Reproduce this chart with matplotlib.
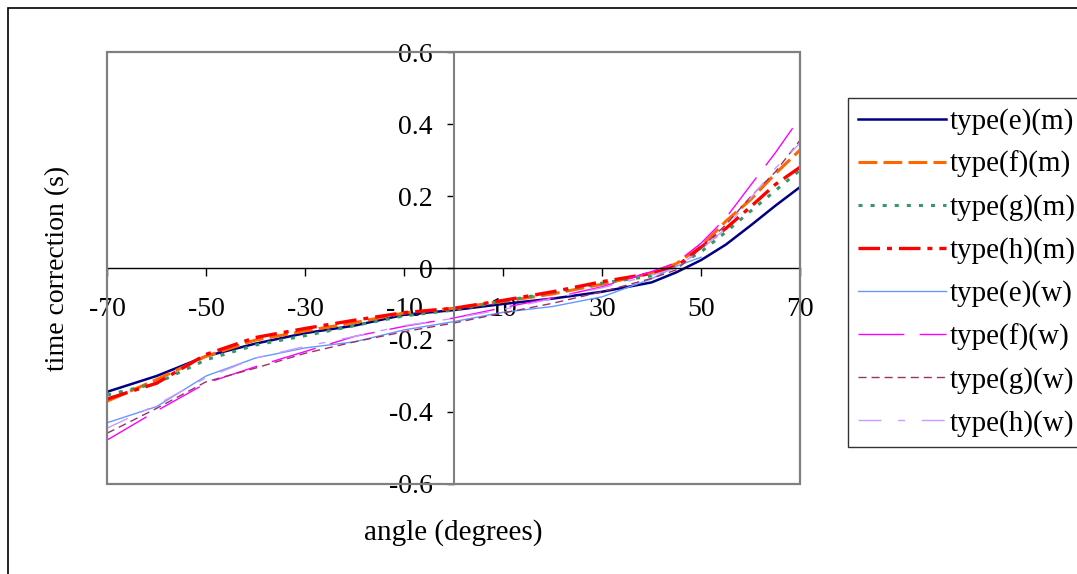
import matplotlib
matplotlib.use('Agg')
import matplotlib.pyplot as plt
from matplotlib.patches import Rectangle

plt.rcParams['font.family'] = ['Liberation Serif', 'DejaVu Serif']
plt.rcParams['lines.scale_dashes'] = False
plt.rcParams['axes.unicode_minus'] = False

angles = [-70, -60, -50, -40, -30, -20, -10, 0, 10, 20, 30, 40, 45, 50, 55, 60, 65, 70]
angles_ew = [-70, -60, -50, -40, -30, -20, -10, 0, 10, 20, 30, 40, 45, 50]

e_m = [-0.344, -0.30, -0.245, -0.21, -0.181, -0.16, -0.13, -0.117, -0.10, -0.085, -0.066, -0.040, -0.012, 0.022, 0.065, 0.118, 0.173, 0.225]
f_m = [-0.37, -0.31, -0.245, -0.20, -0.175, -0.152, -0.125, -0.112, -0.093, -0.072, -0.045, -0.014, 0.012, 0.06, 0.13, 0.19, 0.262, 0.328]
g_m = [-0.353, -0.32, -0.255, -0.214, -0.188, -0.16, -0.133, -0.117, -0.092, -0.068, -0.042, -0.022, 0.006, 0.045, 0.10, 0.158, 0.215, 0.272]
h_m = [-0.364, -0.32, -0.24, -0.193, -0.168, -0.145, -0.124, -0.112, -0.09, -0.066, -0.038, -0.015, 0.004, 0.058, 0.11, 0.17, 0.232, 0.28]
e_w = [-0.43, -0.385, -0.30, -0.25, -0.222, -0.205, -0.172, -0.149, -0.123, -0.107, -0.08, -0.03, 0.005, 0.03]
f_w = [-0.478, -0.397, -0.32, -0.274, -0.232, -0.19, -0.162, -0.139, -0.11, -0.083, -0.052, -0.01, 0.015, 0.069, 0.139, 0.23, 0.32, 0.418]
g_w = [-0.459, -0.39, -0.316, -0.278, -0.237, -0.205, -0.177, -0.153, -0.125, -0.098, -0.066, -0.029, -0.005, 0.055, 0.12, 0.198, 0.267, 0.355]
h_w = [-0.445, -0.38, -0.305, -0.25, -0.218, -0.19, -0.16, -0.14, -0.115, -0.085, -0.055, -0.02, 0.0, 0.052, 0.11, 0.194, 0.277, 0.347]

fig = plt.figure(figsize=(10.77, 5.74), dpi=100)
ax = fig.add_axes([0.0994, 0.1568, 0.6435, 0.7526])

ax.plot(angles, e_m, color='#000080', lw=1.8, label='type(e)(m)')
ax.plot(angles, f_m, color='#ff6600', lw=2.2, linestyle=(0, (13.5, 4.5)), label='type(f)(m)')
ax.plot(angles, g_m, color='#339966', lw=2.2, linestyle=(0, (2.9, 5.8)), label='type(g)(m)')
ax.plot(angles, h_m, color='#ff0000', lw=2.4, linestyle=(0, (15.5, 5, 3.6, 5)), label='type(h)(m)')
ax.plot(angles_ew, e_w, color='#6699ff', lw=1.0, label='type(e)(w)')
ax.plot(angles, f_w, color='#ff00ff', lw=1.0, linestyle=(0, (33, 11)), label='type(f)(w)')
ax.plot(angles, g_w, color='#993366', lw=1.0, linestyle=(0, (5.8, 3.6)), label='type(g)(w)')
ax.plot(angles, h_w, color='#cc99ff', lw=1.0, linestyle=(0, (16.5, 12, 5, 12)), label='type(h)(w)')

ax.set_xlim(-70, 70)
ax.set_ylim(-0.6, 0.6)
ax.set_xticks(range(-70, 71, 20))
ax.set_yticks([-0.6, -0.4, -0.2, 0, 0.2, 0.4, 0.6])
ax.set_yticklabels(['-0.6', '-0.4', '-0.2', '0', '0.2', '0.4', '0.6'])

ax.spines['left'].set_position(('data', 0))
ax.spines['bottom'].set_position(('data', 0))
ax.spines['left'].set_color('#808080')
ax.spines['left'].set_linewidth(1.5)
ax.spines['bottom'].set_color('black')
ax.spines['bottom'].set_linewidth(1.0)
ax.spines['top'].set_visible(False)
ax.spines['right'].set_visible(False)
ax.add_patch(Rectangle((0, 0), 1, 1, transform=ax.transAxes, fill=False,
                       edgecolor='#808080', lw=1.6, clip_on=False, zorder=5))

ax.tick_params(axis='x', direction='out', length=6, width=1, pad=15, labelsize=20)
ax.tick_params(axis='y', direction='out', length=5, width=1, pad=10, labelsize=20)

fig.text(0.0539, 0.533, 'time correction (s)', rotation=90, ha='center', va='center', fontsize=20)
fig.text(0.4206, 0.0714, 'angle (degrees)', ha='center', va='center', fontsize=21)

leg = fig.legend(loc='upper left', bbox_to_anchor=(848 / 1077, 1 - 98 / 574),
                 fontsize=21, handlelength=3.0, handletextpad=0.15, labelspacing=0.55,
                 borderpad=0.35, borderaxespad=0, fancybox=False, frameon=True)
leg.get_frame().set_edgecolor('black')
leg.get_frame().set_linewidth(1.0)

fig.add_artist(Rectangle((8 / 1077, -0.05), 1.1, 0.05 + 1 - 7.5 / 574, transform=fig.transFigure,
                         fill=False, edgecolor='black', lw=1.2, clip_on=False))

fig.savefig('out.png', dpi=100)
